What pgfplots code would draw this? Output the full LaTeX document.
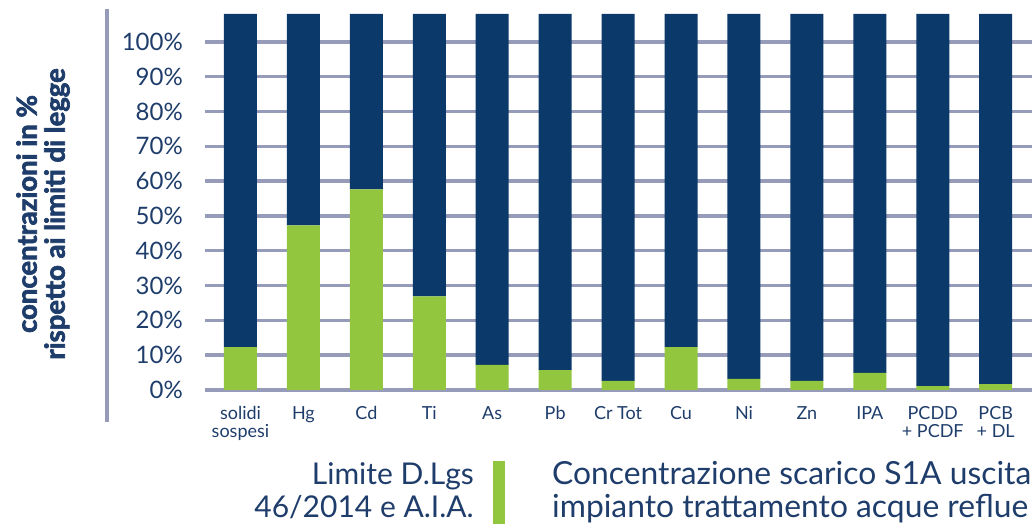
\documentclass[border=0pt]{standalone}
\usepackage{pgfplots}
\pgfplotsset{compat=1.18}
\usepackage{pgfplotstable}
\usepackage{fontspec}
\setmainfont{Lato}
\newfontfamily\heavyfont{Lato}[FakeBold=2.5]
\definecolor{navy}{HTML}{0B3969}
\definecolor{lgreen}{HTML}{92C63E}
\definecolor{gridgray}{HTML}{969BB9}
\definecolor{txtnavy}{HTML}{1F3D6B}
\pgfplotstableread{
idx conc lim
0 12.3 95.7
1 47.3 60.7
2 57.6 50.4
3 26.9 81.1
4 7.2 100.8
5 5.7 102.3
6 2.6 105.4
7 12.3 95.7
8 3.2 104.8
9 2.6 105.4
10 4.9 103.1
11 1.1 106.9
12 1.7 106.3
}\datatable
\begin{document}
\begin{tikzpicture}[x=1pt,y=1pt]
\useasboundingbox (0pt,0pt) rectangle (1032pt,524pt);
\begin{axis}[
  at={(205pt,134pt)}, anchor=south west,
  scale only axis, width=827pt, height=376pt,
  ymin=0, ymax=108, xmin=-0.564, xmax=12.577,
  ybar stacked, bar width=33pt,
  axis line style={draw=none},
  major tick length=0pt,
  ymajorgrids, grid style={draw=gridgray, line width=3.5pt},
  ytick={0,10,...,100},
  yticklabels={0\%,10\%,20\%,30\%,40\%,50\%,60\%,70\%,80\%,90\%,100\%},
  yticklabel style={font=\fontsize{24}{24}\selectfont, text=txtnavy, anchor=east, inner sep=0pt, xshift=-22pt},
  xtick={0,...,12},
  xticklabels={solidi\\sospesi,Hg,Cd,Ti,As,Pb,Cr Tot,Cu,Ni,Zn,IPA,PCDD\\+ PCDF,PCB\\+ DL},
  xticklabel style={font=\fontsize{18}{18}\selectfont, text=txtnavy, align=center, anchor=north, inner sep=0pt, yshift=-16pt},
  /pgf/number format/assume math mode=true,
  clip=false,
]
\addplot[fill=lgreen, draw=none] table[x=idx,y=conc]{\datatable};
\addplot[fill=navy, draw=none] table[x=idx,y=lim]{\datatable};
\end{axis}
\draw[line width=3.5pt, gridgray] (107pt,515pt) -- (107pt,102pt);
\node[rotate=90, align=center, text=txtnavy, font=\heavyfont\bfseries\fontsize{27.5}{28}\selectfont] at (43pt,310pt) {concentrazioni in \%\\rispetto ai limiti di legge};
\node[anchor=base east, align=right, inner sep=0pt, text=txtnavy, font=\fontsize{30}{33}\selectfont] at (474pt,6.8pt) {Limite D.Lgs\\46/2014 e A.I.A.};
\fill[lgreen] (493pt,0pt) rectangle (505pt,63pt);
\node[anchor=base west, align=left, inner sep=0pt, text=txtnavy, font=\fontsize{31.8}{33}\selectfont] at (552pt,6.8pt) {Concentrazione scarico S1A uscita\\impianto trattamento acque reflue};
\end{tikzpicture}
\end{document}
